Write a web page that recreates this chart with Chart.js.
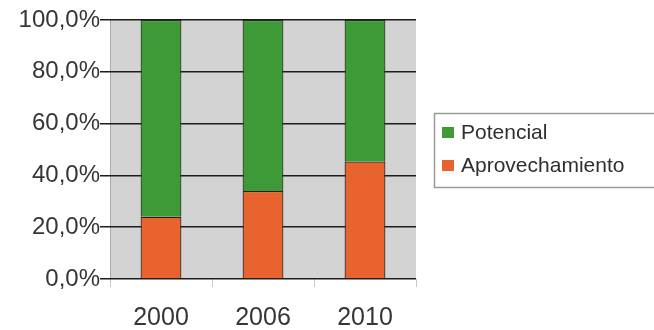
<!DOCTYPE html>
<html>
<head>
<meta charset="utf-8">
<script src="https://cdn.jsdelivr.net/npm/chart.js@4"></script>
<style>
    html, body { margin: 0; padding: 0; background: #fff; }
    #wrap { width: 654px; height: 330px; }
</style>
</head>
<body>
<div id="wrap"><canvas id="chart" width="654" height="330"></canvas></div>
<script>
const years = ['2000', '2006', '2010'];
const aprovechamiento = [24, 34, 45.3];
const potencial = [76, 66, 54.7];
const yTicks = [0, 20, 40, 60, 80, 100];

const FONT = "'Liberation Sans', Arial, sans-serif";

// gray plot background
const plotBackground = {
    id: 'plotBackground',
    beforeDraw(chart) {
        const { ctx, chartArea: a } = chart;
        ctx.save();
        ctx.fillStyle = '#d3d3d3';
        ctx.fillRect(a.left, a.top, a.right - a.left, a.bottom - a.top);
        ctx.strokeStyle = '#a8a8a8';
        ctx.lineWidth = 1;
        ctx.beginPath();
        ctx.moveTo(a.left + 0.5, a.top);
        ctx.lineTo(a.left + 0.5, a.bottom);
        ctx.stroke();
        ctx.restore();
    }
};

// boxed legend on the right, top item = top dataset
const boxLegend = {
    id: 'boxLegend',
    afterDraw(chart) {
        const { ctx } = chart;
        const sets = chart.data.datasets.slice().reverse();
        ctx.save();
        ctx.strokeStyle = '#9a9a9a';
        ctx.lineWidth = 1.5;
        ctx.strokeRect(434.5, 113.5, 230, 74);
        ctx.font = '21px ' + FONT;
        ctx.textBaseline = 'middle';
        sets.forEach((ds, i) => {
            const y = 133 + i * 33;
            ctx.fillStyle = ds.backgroundColor;
            ctx.fillRect(442, y - 6, 12, 11);
            ctx.fillStyle = '#2e2e2e';
            ctx.fillText(ds.label, 461, y);
        });
        ctx.restore();
    }
};

new Chart(document.getElementById('chart'), {
    type: 'bar',
    data: {
        labels: years,
        datasets: [
            {
                label: 'Aprovechamiento',
                data: aprovechamiento,
                backgroundColor: '#e9632f',
                borderColor: '#2a1d16',
                borderWidth: 1.2
            },
            {
                label: 'Potencial',
                data: potencial,
                backgroundColor: '#3d9a37',
                borderColor: '#1d2f1a',
                borderWidth: 1.2
            }
        ]
    },
    options: {
        responsive: false,
        animation: false,
        layout: { padding: { top: 20, right: 238, left: 0, bottom: 0 } },
        plugins: {
            legend: { display: false },
            tooltip: { enabled: false }
        },
        datasets: {
            bar: { categoryPercentage: 1, barPercentage: 0.4 }
        },
        scales: {
            x: {
                stacked: true,
                afterFit(scale) { scale.height = 51; },
                grid: {
                    offset: true,
                    drawOnChartArea: false,
                    color: '#c8c8c8',
                    tickLength: 8
                },
                border: { display: false },
                ticks: {
                    color: '#363636',
                    padding: 16,
                    font: { family: FONT, size: 25 }
                }
            },
            y: {
                stacked: true,
                min: 0,
                max: 100,
                afterFit(scale) { scale.width = 110; },
                afterBuildTicks(scale) {
                    scale.ticks = yTicks.map(v => ({ value: v }));
                },
                grid: {
                    color: '#1c1c1c',
                    lineWidth: 1.5,
                    tickLength: 10
                },
                border: { display: false },
                ticks: {
                    color: '#363636',
                    padding: 0,
                    font: { family: FONT, size: 24 },
                    callback: v => v.toFixed(1).replace('.', ',') + '%'
                }
            }
        }
    },
    plugins: [plotBackground, boxLegend]
});
</script>
</body>
</html>
